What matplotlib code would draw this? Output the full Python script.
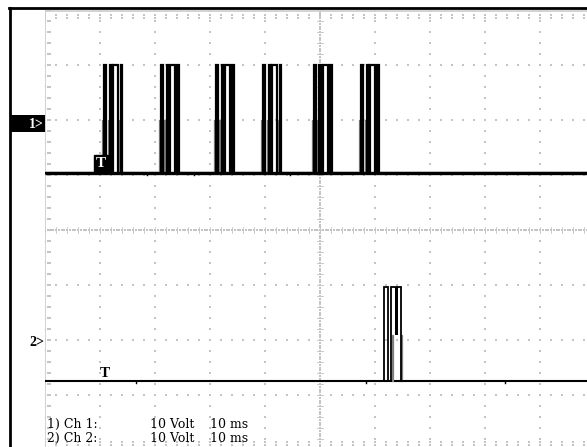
import matplotlib
matplotlib.use("Agg")
import matplotlib.pyplot as plt
import numpy as np
from matplotlib.lines import Line2D
from matplotlib.patches import Rectangle

# ---------------- data (time in ms, 10 ms/div; amplitude in screen divisions) ----------------
ch1_low, ch1_mid, ch1_high = 1.04, 2.0, 3.0
ch2_low, ch2_mid, ch2_high = -2.75, -1.9, -1.04

ch1_burst_starts = [10.8, 21.1, 31.1, 39.7, 48.9, 57.5]          # ms
ch1_full_pulses = [(0.0, 0.3), (1.0, 0.35), (1.6, 0.9), (2.95, 0.3)]   # (offset ms, width ms)
ch1_mid_pulses = [(-0.35, 0.15), (0.6, 0.15), (2.6, 0.2)]

ch2_burst_starts = [61.6]
ch2_full_pulses = [(0.0, 0.8), (1.25, 1.8)]
ch2_bar_pulses = [(2.1, 0.45)]
ch2_mid_pulses = [(1.45, 0.15), (3.05, 0.3)]

ch2_glitches = [16.6, 58.4, 83.6]   # small dips on ch2 baseline (ms)
ch1_glitches = [18.5, 27.0, 44.5]

trig1_t, trig2_t = 10.2, 10.9

legend_rows = [("1) Ch 1:", "10 Volt", "10 ms"), ("2) Ch 2:", "10 Volt", "10 ms")]

# ---------------- figure ----------------
W, H = 587, 447
fig = plt.figure(figsize=(W / 100, H / 100), dpi=100)

def fx(px):
    return px / W

def fy(py):
    return 1 - py / H

# plot area: x 45..595 px (10 div), y 10..450 px (8 div)
ax = fig.add_axes([fx(45), fy(450), 550 / W, 440 / H])
ax.set_xlim(0, 100)
ax.set_ylim(-4, 4)
ax.axis("off")

grid_c = "#c4c4c4"
# major grid dots
for k in range(0, 11):
    yy = np.arange(-4, 4.001, 0.2)
    ax.scatter(np.full_like(yy, k * 10.0), yy, s=1.5, marker="s", c=grid_c, linewidths=0, zorder=1)
for m in range(-3, 4):
    xx = np.arange(0, 100.001, 2.0)
    ax.scatter(xx, np.full_like(xx, float(m)), s=1.5, marker="s", c=grid_c, linewidths=0, zorder=1)
# center lines denser
yy = np.arange(-4, 4.001, 0.05)
ax.scatter(np.full_like(yy, 50.0), yy, s=0.8, marker="s", c=grid_c, linewidths=0, zorder=1)
xx = np.arange(0, 100.001, 0.5)
ax.scatter(xx, np.zeros_like(xx), s=0.8, marker="s", c=grid_c, linewidths=0, zorder=1)
# small tick marks on center lines and edges
for t in np.arange(0, 100.001, 2.0):
    ax.plot([t, t], [-0.05, 0.05], color=grid_c, lw=0.6, zorder=1)
    ax.scatter([t, t], [3.91, 3.85], s=1.2, marker="s", c=grid_c, linewidths=0, zorder=1)
    ax.scatter([t, t], [-3.91, -3.85], s=1.2, marker="s", c=grid_c, linewidths=0, zorder=1)
for v in np.arange(-4, 4.001, 0.2):
    ax.plot([49.5, 50.5], [v, v], color=grid_c, lw=0.6, zorder=1)
    ax.scatter([0.5, 0.9], [v, v], s=1.2, marker="s", c=grid_c, linewidths=0, zorder=1)
# plot area edges
ax.plot([0, 0], [-4, 4], color="#cccccc", lw=1.2, zorder=1)
ax.plot([0, 100], [3.98, 3.98], color="#cccccc", lw=1.2, zorder=1)


def step_trace(starts, pulses, low, high):
    xs, ys = [0.0], [low]
    evts = []
    for s in starts:
        for off, w in pulses:
            evts.append((s + off, s + off + w))
    evts.sort()
    for a, b in evts:
        xs += [a, a, b, b]
        ys += [low, high, high, low]
    xs.append(100.0)
    ys.append(low)
    return xs, ys


# ---------------- channel 1 ----------------
ax.plot([0, 100], [ch1_low, ch1_low], color="black", lw=2.4, zorder=3, solid_capstyle="butt")
for s in ch1_burst_starts:
    for off, w in ch1_mid_pulses:
        a, b = s + off, s + off + w
        ax.plot([a, a, b, b], [ch1_low, ch1_mid, ch1_mid, ch1_low], color="#808080", lw=0.9, zorder=3)
x1, y1 = step_trace(ch1_burst_starts, ch1_full_pulses, ch1_low, ch1_high)
ax.plot(x1, y1, color="black", lw=1.6, zorder=4, solid_joinstyle="miter")
for g in ch1_glitches:
    ax.plot([g, g], [ch1_low, ch1_low - 0.04], color="black", lw=1.0, zorder=3)

# ---------------- channel 2 ----------------
ax.plot([0, 100], [ch2_low, ch2_low], color="black", lw=1.5, zorder=3, solid_capstyle="butt")
for s in ch2_burst_starts:
    for off, w in ch2_mid_pulses:
        a, b = s + off, s + off + w
        ax.plot([a, a, b, b], [ch2_low, ch2_mid, ch2_mid, ch2_low], color="#808080", lw=0.9, zorder=3)
    for off, w in ch2_bar_pulses:
        ax.add_patch(Rectangle((s + off, ch2_mid), w, ch2_high - ch2_mid,
                               facecolor="black", edgecolor="none", zorder=4))
x2, y2 = step_trace(ch2_burst_starts, ch2_full_pulses, ch2_low, ch2_high)
ax.plot(x2, y2, color="black", lw=1.3, zorder=4, solid_joinstyle="miter")
for g in ch2_glitches:
    ax.plot([g, g], [ch2_low, ch2_low - 0.035], color="black", lw=1.0, zorder=3)

# trigger markers
ax.text(trig1_t, ch1_low + 0.06, "T", color="white", fontsize=11, fontweight="bold",
        family="Liberation Serif", ha="center", va="bottom", zorder=6,
        bbox=dict(boxstyle="square,pad=0.12", fc="black", ec="black"))
ax.text(trig2_t, ch2_low + 0.03, "T", color="black", fontsize=11, fontweight="bold",
        family="Liberation Serif", ha="center", va="bottom", zorder=6)

# ---------------- frame and channel labels (figure coordinates) ----------------
fig.add_artist(Line2D([fx(10), fx(10)], [fy(8), 0], color="black", lw=2.0))
fig.add_artist(Line2D([fx(9), 1], [fy(8), fy(8)], color="black", lw=2.0))
fig.add_artist(Rectangle((fx(10), fy(132)), fx(45) - fx(10), fy(115) - fy(132),
                         facecolor="black", edgecolor="none"))
fig.text(fx(44), fy(124), "1>", color="white", fontsize=10, fontweight="bold",
         family="Liberation Serif", ha="right", va="center")
fig.text(fx(44), fy(342), "2>", color="black", fontsize=10, fontweight="bold",
         family="Liberation Serif", ha="right", va="center")

# legend text
for i, (a, b, c) in enumerate(legend_rows):
    yb = fy(424 + 14 * i)
    fig.text(fx(47), yb, a, fontsize=9, family="DejaVu Serif", va="center", ha="left")
    fig.text(fx(150), yb, b, fontsize=9, family="DejaVu Serif", va="center", ha="left")
    fig.text(fx(210), yb, c, fontsize=9, family="DejaVu Serif", va="center", ha="left")

fig.savefig("out.png", dpi=100)
